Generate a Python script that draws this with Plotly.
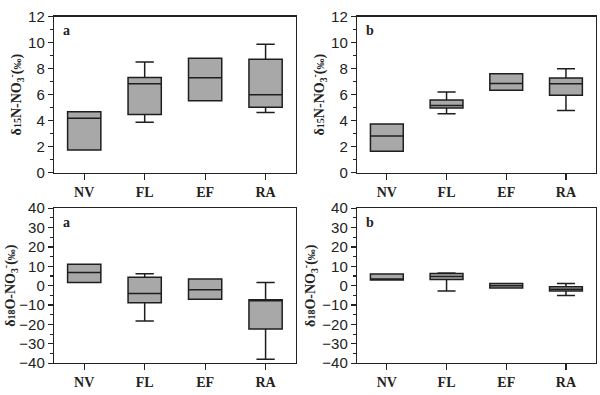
import plotly.graph_objects as go

categories = ["NV", "FL", "EF", "RA"]

# Panel a, δ15N
n_a_q1 = [1.75, 4.48, 5.52, 5.03]
n_a_med = [4.19, 6.83, 7.29, 5.99]
n_a_q3 = [4.68, 7.32, 8.80, 8.72]
n_a_lo = [1.75, 3.87, 5.52, 4.63]
n_a_hi = [4.68, 8.50, 8.80, 9.88]

# Panel b, δ15N
n_b_q1 = [1.65, 4.98, 6.33, 5.96]
n_b_med = [2.81, 5.17, 6.85, 6.83]
n_b_q3 = [3.75, 5.59, 7.61, 7.27]
n_b_lo = [1.65, 4.53, 6.33, 4.78]
n_b_hi = [3.75, 6.21, 7.61, 7.98]

# Panel a, δ18O
o_a_q1 = [1.6, -8.8, -7.0, -22.4]
o_a_med = [6.8, -4.0, -2.1, -7.5]
o_a_q3 = [11.1, 4.4, 3.5, -7.2]
o_a_lo = [1.6, -18.2, -7.0, -38.0]
o_a_hi = [11.1, 6.2, 3.5, 1.7]

# Panel b, δ18O
o_b_q1 = [2.9, 3.2, -1.2, -2.8]
o_b_med = [3.3, 4.8, 0.0, -1.8]
o_b_q3 = [6.1, 6.3, 1.1, -0.5]
o_b_lo = [2.9, -2.8, -1.2, -5.0]
o_b_hi = [6.1, 6.5, 1.1, 1.1]

panels = [
    ("x", "y", n_a_q1, n_a_med, n_a_q3, n_a_lo, n_a_hi),
    ("x2", "y2", n_b_q1, n_b_med, n_b_q3, n_b_lo, n_b_hi),
    ("x3", "y3", o_a_q1, o_a_med, o_a_q3, o_a_lo, o_a_hi),
    ("x4", "y4", o_b_q1, o_b_med, o_b_q3, o_b_lo, o_b_hi),
]

fig = go.Figure()
for xa, ya, q1, med, q3, lo, hi in panels:
    fig.add_trace(go.Box(
        x=categories, q1=q1, median=med, q3=q3, lowerfence=lo, upperfence=hi,
        xaxis=xa, yaxis=ya, boxpoints=False, width=0.55, whiskerwidth=0.55,
        fillcolor="#a8a8a8", line=dict(color="#1e1e1e", width=1.5),
        showlegend=False, hoverinfo="skip",
    ))

SERIF = "Liberation Serif, Times New Roman, serif"
tickfont = dict(family="Liberation Sans, Arial, sans-serif", size=15, color="#222")
catfont = dict(family=SERIF, size=14, color="#222")
titlefont = dict(family=SERIF, size=14, color="#222")

xdoms = [(0.09, 0.493), (0.595, 0.993)]
ydoms = [(0.567, 0.980), (0.063, 0.473)]

def xaxis(dom, anchor):
    return dict(domain=dom, anchor=anchor, type="category", range=[-0.5, 3.5],
                showline=True, mirror=True, linecolor="#222", linewidth=1.2,
                ticks="outside", ticklen=6, tickcolor="#222", tickwidth=1.2,
                tickfont=catfont, tickprefix="<b>", ticksuffix="</b>",
                showgrid=False, zeroline=False, fixedrange=True)

def yaxis(dom, anchor, rng, dt, title):
    return dict(domain=dom, anchor=anchor, range=rng, dtick=dt, tick0=rng[0],
                showline=True, mirror=True, linecolor="#222", linewidth=1.2,
                ticks="outside", ticklen=5, tickcolor="#222", tickwidth=1.2,
                minor=dict(dtick=dt / 2, ticks="outside", ticklen=3, tickcolor="#222", showgrid=False),
                tickfont=tickfont, showgrid=False, zeroline=False, fixedrange=True,
                title=dict(text=title, font=titlefont, standoff=3))

t15 = "<b>δ<span style='font-size:10px'>15</span>N-NO<sub>3</sub><sup>-</sup>(<span style='font-size:11px'>‰</span>)</b>"
t18 = "<b>δ<span style='font-size:10px'>18</span>O-NO<sub>3</sub><sup>-</sup>(<span style='font-size:11px'>‰</span>)</b>"

fig.update_layout(
    width=600, height=395, margin=dict(l=0, r=0, t=0, b=0),
    paper_bgcolor="white", plot_bgcolor="white",
    xaxis=xaxis(xdoms[0], "y"), yaxis=yaxis(ydoms[0], "x", [0, 12], 2, t15),
    xaxis2=xaxis(xdoms[1], "y2"), yaxis2=yaxis(ydoms[0], "x2", [0, 12], 2, t15),
    xaxis3=xaxis(xdoms[0], "y3"), yaxis3=yaxis(ydoms[1], "x3", [-40, 40], 10, t18),
    xaxis4=xaxis(xdoms[1], "y4"), yaxis4=yaxis(ydoms[1], "x4", [-40, 40], 10, t18),
    hovermode=False,
)

for xr, yr, lab in [("x", "y", "a"), ("x2", "y2", "b"), ("x3", "y3", "a"), ("x4", "y4", "b")]:
    fig.add_annotation(text="<b>" + lab + "</b>", xref=xr + " domain", yref=yr + " domain",
                       x=0.03, y=0.91, xanchor="left", yanchor="middle", showarrow=False,
                       font=dict(family=SERIF, size=14, color="#222"))

fig.write_html("out.html", config={"displayModeBar": False, "staticPlot": True},
               post_script="document.body.style.margin='0';document.body.style.overflow='hidden';")
